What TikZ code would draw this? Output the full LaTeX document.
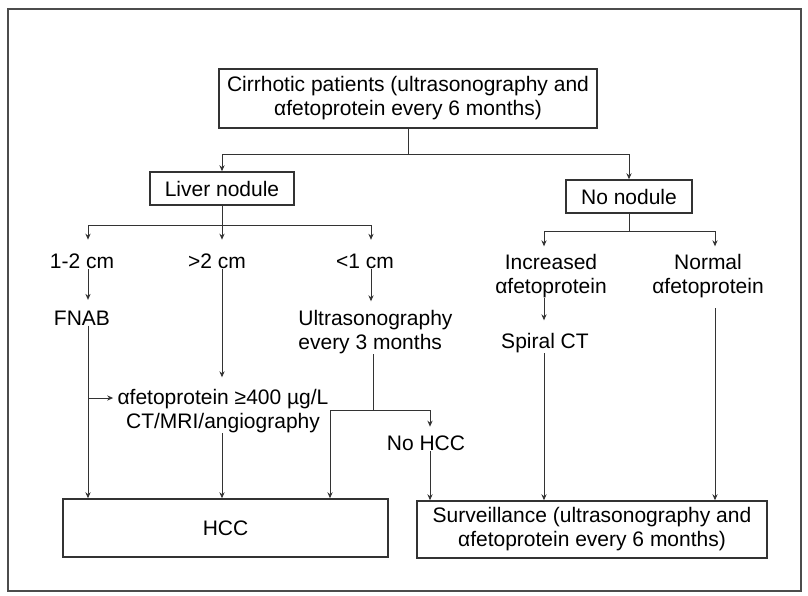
\documentclass[tikz,border=0pt]{standalone}
\usepackage{fontspec}
\setmainfont{Liberation Sans}
\usetikzlibrary{arrows.meta}
\newcommand\diafont{\fontsize{10.5}{12}\selectfont}
\tikzset{
  box/.style={draw=black!80, line width=0.75pt, inner sep=0pt, align=center, font=\diafont},
  lbl/.style={inner sep=0pt, align=center, font=\diafont},
  conn/.style={draw=black!80, line width=0.5pt},
  arr/.style={conn, -{Stealth[length=3pt,width=2.6pt]}},
  frame/.style={draw=black!70, line width=0.8pt}
}
\begin{document}
\begin{tikzpicture}[x=0.5pt,y=-0.5pt]
\useasboundingbox (0,0) rectangle (808,595);
\draw[frame] (8,9) rectangle (801,591);

% boxes
\node[box, minimum width=189pt, minimum height=29.5pt] (top) at (408,98.5)
  {Cirrhotic patients (ultrasonography and\\αfetoprotein every 6 months)};
\node[box, minimum width=72pt, minimum height=16.5pt] (liver) at (222,188.5) {Liver nodule};
\node[box, minimum width=63pt, minimum height=16.5pt] (nonod) at (629,196.5) {No nodule};
\node[box, minimum width=162.5pt, minimum height=29pt] (hcc) at (225.5,528) {HCC};
\node[box, minimum width=175pt, minimum height=28.5pt] (surv) at (592,529.5)
  {Surveillance (ultrasonography and\\αfetoprotein every 6 months)};

% labels
\node[lbl] (l12) at (82,261) {1-2 cm};
\node[lbl] (g2) at (217,261) {>2 cm};
\node[lbl] (s1) at (365,261) {<1 cm};
\node[lbl] (fnab) at (82,318) {FNAB};
\node[lbl] (afp) at (223,411) {αfetoprotein ≥400 µg/L\\CT/MRI/angiography};
\node[lbl, align=left, anchor=west] (us) at (298,332) {Ultrasonography\\every 3 months};
\node[lbl] (nohcc) at (426,443) {No HCC};
\node[lbl] (inc) at (551,276) {Increased\\αfetoprotein};
\node[lbl] (spiral) at (545,343) {Spiral CT};
\node[lbl] (norm) at (708,276) {Normal\\αfetoprotein};

% junctions
\coordinate (b1) at (408,154);
\coordinate (b2) at (222,225);
\coordinate (c12) at (88,225);
\coordinate (c1) at (371,225);
\coordinate (fb) at (88,398);
\coordinate (ub) at (373,410);
\coordinate (ubl) at (330,410);
\coordinate (ubr) at (430,410);
\coordinate (b3) at (629,231);
\coordinate (ci) at (544,231);
\coordinate (cn) at (715,231);

% top level
\draw[conn] (top.south) -- (b1);
\draw[arr] (b1) -| (liver.north);
\draw[arr] (b1) -| (nonod.north);

% liver nodule branch
\draw[conn] (liver.south) -- (b2);
\draw[conn] (c12) -- (c1);
\draw[arr, shorten >=6.75pt] (c12) -- (c12 |- l12.north);
\draw[arr, shorten >=6.75pt] (b2) -- (b2 |- g2.north);
\draw[arr, shorten >=6.75pt] (c1) -- (c1 |- s1.north);
\draw[arr, shorten >=5.25pt] (c12 |- l12.south) -- (c12 |- fnab.north);
\draw[arr, shorten >=5.75pt] (b2 |- g2.south) -- (b2 |- afp.north);
\draw[arr, shorten >=4.25pt] (c1 |- s1.south) -- (c1 |- us.north);

% FNAB
\draw[arr] (c12 |- fnab.south) -- (c12 |- hcc.north);
\draw[arr, shorten >=2pt] (fb) -- (fb -| afp.west);
% >2 cm
\draw[arr] (b2 |- afp.south) -- (b2 |- hcc.north);
% <1 cm
\draw[conn] (ub |- us.south) -- (ub);
\draw[conn] (ubl) -- (ubr);
\draw[arr] (ubl) -- (ubl |- hcc.north);
\draw[arr, shorten >=4.25pt] (ubr) -- (ubr |- nohcc.north);
\draw[arr] (ubr |- nohcc.south) -- (ubr |- surv.north);

% no nodule branch
\draw[conn] (nonod.south) -- (b3);
\draw[conn] (ci) -- (cn);
\draw[arr, shorten >=3.75pt] (ci) -- (ci |- inc.north);
\draw[arr, shorten >=3.75pt] (cn) -- (cn |- norm.north);
\draw[arr, shorten >=6.25pt] (ci |- inc.south) -- (ci |- spiral.north);
\draw[arr] (ci |- spiral.south) -- (ci |- surv.north);
\draw[arr, shorten <=5pt] (cn |- norm.south) -- (cn |- surv.north);
\end{tikzpicture}
\end{document}
